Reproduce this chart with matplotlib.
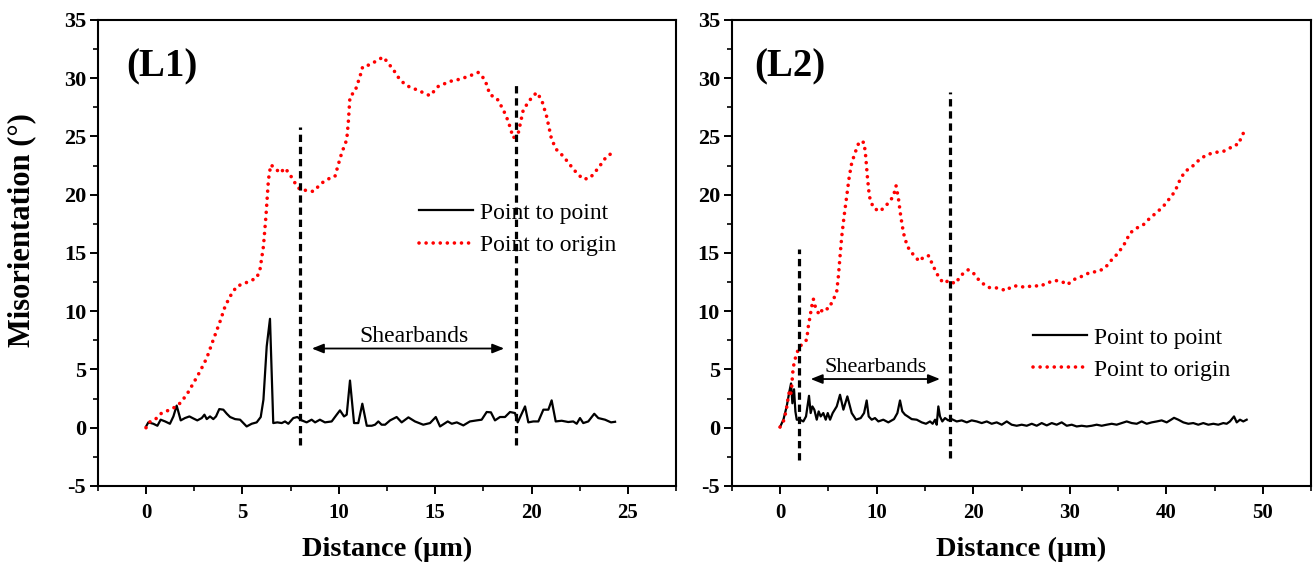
import numpy as np
import matplotlib
matplotlib.use("Agg")
import matplotlib.pyplot as plt
from matplotlib.ticker import MultipleLocator
from matplotlib.lines import Line2D

plt.rcParams["font.family"] = ["Liberation Serif", "DejaVu Serif"]
plt.rcParams["axes.unicode_minus"] = False

# ---------------- L1 profile ----------------
l1_origin_x = [0, 0.2, 0.47, 0.81, 1.16, 1.42, 1.76, 2.11, 2.46, 2.80, 3.15, 3.49, 3.84, 4.10, 4.36,
               4.70, 5.22, 5.74, 5.91, 6.09, 6.22, 6.35, 6.47, 6.69, 6.95, 7.21, 7.47, 7.73, 7.99, 8.33,
               8.68, 9.11, 9.54, 9.80, 9.97, 10.15, 10.41, 10.49, 10.58, 10.84, 11.10, 11.24, 11.62, 12.05, 12.31,
               12.83, 13.17, 13.52, 14.04, 14.73, 15.16, 15.77, 16.29, 16.80, 17.24, 17.58, 17.84, 18.19, 18.53, 18.79,
               19.05, 19.31, 19.57, 19.92, 20.26, 20.52, 20.78, 21.04, 21.30, 21.65, 21.99, 22.34, 22.68, 23.03, 23.46,
               23.89, 24.33]
l1_origin_y = [0.0, 0.5, 0.7, 1.26, 1.49, 1.69, 2.1, 2.83, 3.83, 4.83, 5.98, 7.55, 9.12, 10.41, 11.27,
               12.13, 12.47, 12.85, 13.56, 15.56, 18.14, 21.29, 22.57, 22.29, 21.86, 22.29, 21.72, 21.0, 20.43, 20.37,
               20.28, 21.0, 21.43, 21.57, 22.57, 23.58, 24.72, 26.15, 28.44, 28.87, 30.16, 31.0, 31.16, 31.59, 31.82,
               30.73, 29.87, 29.36, 29.01, 28.5, 29.3, 29.73, 29.92, 30.21, 30.5, 29.87, 28.58, 28.3, 27.3, 26.3,
               24.87, 25.3, 27.3, 28.15, 28.78, 28.15, 26.72, 24.72, 23.86, 23.29, 22.57, 21.86, 21.33, 21.43, 22.29,
               23.29, 23.72]

l1_point = [
    (0.00, 0.10), (0.12, 0.46), (0.38, 0.34), (0.59, 0.17), (0.76, 0.69), (0.99, 0.54), (1.24, 0.34),
    (1.42, 0.97), (1.59, 1.90), (1.80, 0.63), (2.02, 0.83), (2.25, 0.97), (2.45, 0.80), (2.66, 0.63),
    (2.89, 0.83), (3.03, 1.12), (3.15, 0.74), (3.32, 0.97), (3.49, 0.74), (3.63, 0.97), (3.80, 1.60),
    (4.01, 1.55), (4.19, 1.20), (4.36, 0.92), (4.62, 0.74), (4.88, 0.69), (5.05, 0.40), (5.22, 0.11),
    (5.48, 0.34), (5.74, 0.46), (5.95, 0.92), (6.09, 2.40), (6.26, 6.98), (6.43, 9.35), (6.60, 0.40),
    (6.81, 0.46), (7.04, 0.40), (7.21, 0.54), (7.38, 0.34), (7.64, 0.83), (7.85, 0.92), (8.08, 0.63),
    (8.33, 0.46), (8.59, 0.69), (8.77, 0.46), (9.02, 0.69), (9.28, 0.46), (9.63, 0.54), (9.89, 1.12),
    (10.06, 1.49), (10.27, 0.97), (10.41, 1.12), (10.58, 4.05), (10.79, 0.40), (11.01, 0.40), (11.22, 2.06),
    (11.45, 0.17), (11.71, 0.17), (11.88, 0.26), (12.05, 0.54), (12.22, 0.26), (12.40, 0.26), (12.66, 0.63),
    (13.00, 0.92), (13.26, 0.46), (13.61, 0.89), (13.95, 0.54), (14.38, 0.26), (14.73, 0.40), (15.03, 0.92),
    (15.25, 0.11), (15.65, 0.54), (15.86, 0.34), (16.12, 0.46), (16.46, 0.20), (16.80, 0.54), (17.15, 0.63),
    (17.41, 0.69), (17.67, 1.35), (17.89, 1.32), (18.10, 0.63), (18.36, 0.92), (18.62, 0.92), (18.88, 1.35),
    (19.14, 1.26), (19.28, 0.46), (19.66, 1.83), (19.83, 0.46), (20.09, 0.54), (20.35, 0.54), (20.61, 1.55),
    (20.87, 1.55), (21.04, 2.35), (21.25, 0.54), (21.56, 0.60), (21.90, 0.49), (22.16, 0.54), (22.34, 0.34),
    (22.51, 0.83), (22.68, 0.40), (22.94, 0.54), (23.25, 1.20), (23.46, 0.83), (23.81, 0.69), (24.12, 0.46),
    (24.33, 0.51),
]

# ---------------- L2 profile ----------------
l2_origin = [
    (0.00, 0.06), (0.35, 0.54), (0.62, 1.40), (0.76, 2.10), (0.86, 2.69), (0.97, 3.12), (1.10, 2.83),
    (1.21, 3.55), (1.31, 4.69), (1.45, 5.55), (1.73, 6.41), (2.07, 6.98), (2.41, 7.27), (2.76, 7.55),
    (2.93, 8.70), (3.11, 9.55), (3.28, 10.41), (3.45, 11.05), (3.69, 10.27), (4.07, 9.70), (4.48, 10.27),
    (5.00, 10.19), (5.52, 10.99), (5.87, 11.70), (6.04, 12.99), (6.21, 14.70), (6.39, 16.42), (6.63, 18.14),
    (6.90, 19.85), (7.17, 21.57), (7.42, 22.72), (7.76, 23.58), (8.21, 24.58), (8.70, 24.49), (8.87, 23.29),
    (9.04, 21.57), (9.25, 19.85), (9.66, 18.86), (10.35, 18.57), (11.05, 19.14), (11.73, 19.85), (12.01, 20.77),
    (12.25, 19.72), (12.50, 18.14), (12.78, 16.71), (13.18, 15.56), (13.80, 14.85), (14.42, 14.28), (14.91, 14.70),
    (15.39, 14.76), (15.87, 13.85), (16.39, 12.99), (16.90, 12.42), (17.52, 12.64), (18.12, 12.36), (18.81, 13.13),
    (19.49, 13.56), (20.01, 13.28), (20.70, 12.56), (21.56, 12.04), (22.60, 11.99), (23.40, 11.76), (23.98, 12.13),
    (24.67, 12.19), (25.36, 12.04), (26.23, 12.21), (26.92, 12.13), (27.61, 12.42), (28.47, 12.64), (29.16, 12.56),
    (29.74, 12.27), (30.36, 12.70), (31.23, 12.99), (32.09, 13.33), (32.95, 13.42), (33.64, 13.71), (34.34, 14.42),
    (35.02, 15.00), (35.71, 15.85), (36.23, 16.71), (36.93, 17.14), (37.61, 17.42), (38.30, 18.00), (39.00, 18.48),
    (39.68, 19.00), (40.37, 19.72), (40.89, 20.29), (41.41, 21.29), (41.93, 22.00), (42.62, 22.38), (43.40, 23.00),
    (44.17, 23.43), (45.03, 23.63), (45.89, 23.72), (46.41, 23.92), (47.10, 24.29), (47.44, 24.29), (47.79, 25.00),
    (48.24, 25.72),
]

l2_point = [
    (0.00, 0.06), (0.35, 0.69), (0.69, 1.83), (0.97, 3.12), (1.14, 3.80), (1.28, 2.10), (1.45, 3.30),
    (1.59, 1.40), (1.73, 0.69), (2.07, 0.69), (2.41, 0.54), (2.69, 0.97), (3.00, 2.74), (3.17, 1.26),
    (3.35, 1.83), (3.55, 1.55), (3.80, 0.69), (4.00, 1.40), (4.21, 0.97), (4.48, 1.26), (4.73, 0.69),
    (4.94, 1.26), (5.18, 0.69), (5.45, 1.26), (5.87, 1.83), (6.21, 2.83), (6.56, 1.55), (6.97, 2.69),
    (7.42, 1.26), (7.87, 0.69), (8.35, 0.83), (8.70, 1.26), (8.97, 2.34), (9.18, 0.97), (9.49, 0.69),
    (9.83, 0.83), (10.18, 0.54), (10.69, 0.69), (11.21, 0.46), (11.80, 0.74), (12.15, 1.26), (12.42, 2.34),
    (12.66, 1.40), (12.94, 1.12), (13.22, 0.97), (13.63, 0.74), (14.15, 0.69), (14.67, 0.46), (15.11, 0.34),
    (15.53, 0.54), (15.80, 0.34), (16.05, 0.69), (16.22, 0.26), (16.39, 1.83), (16.56, 0.97), (16.80, 0.54),
    (17.08, 0.83), (17.42, 0.63), (17.77, 0.74), (18.29, 0.54), (18.81, 0.63), (19.33, 0.46), (19.84, 0.63),
    (20.36, 0.54), (20.88, 0.40), (21.40, 0.54), (21.91, 0.34), (22.43, 0.46), (22.95, 0.26), (23.47, 0.54),
    (23.98, 0.26), (24.50, 0.17), (25.02, 0.26), (25.54, 0.17), (26.06, 0.34), (26.57, 0.17), (27.09, 0.40),
    (27.61, 0.20), (28.13, 0.40), (28.64, 0.26), (29.16, 0.46), (29.68, 0.17), (30.20, 0.26), (30.71, 0.11),
    (31.23, 0.17), (31.75, 0.11), (32.27, 0.17), (32.78, 0.26), (33.30, 0.17), (33.82, 0.26), (34.34, 0.34),
    (34.85, 0.26), (35.37, 0.40), (35.89, 0.54), (36.41, 0.40), (36.93, 0.34), (37.44, 0.54), (37.96, 0.34),
    (38.48, 0.46), (39.00, 0.54), (39.51, 0.63), (40.03, 0.46), (40.37, 0.63), (40.79, 0.85), (41.23, 0.69),
    (41.75, 0.46), (42.27, 0.34), (42.78, 0.40), (43.30, 0.26), (43.82, 0.40), (44.34, 0.26), (44.86, 0.34),
    (45.37, 0.26), (45.89, 0.40), (46.24, 0.34), (46.58, 0.54), (47.00, 0.97), (47.28, 0.46), (47.62, 0.69),
    (47.96, 0.54), (48.31, 0.69),
]

# shear-band boundaries: (x, y_bottom, y_top)
l1_bounds = [(8.0, -1.5, 25.8), (19.17, -1.5, 29.8)]
l2_bounds = [(1.97, -2.75, 15.3), (17.63, -2.6, 28.8)]
# arrow span and label position
l1_arrow = (8.6, 18.58, 6.8)
l2_arrow = (3.17, 16.56, 4.18)
l1_text = (13.9, 7.4)
l2_text = (9.9, 4.75)

legend_labels = ["Point to point", "Point to origin"]
y_ticks = [-5, 0, 5, 10, 15, 20, 25, 30, 35]

RED_DOTS = dict(color="red", lw=2.6, linestyle=(0, (0.01, 1.95)), dash_capstyle="round")
BLACK = dict(color="black", lw=1.6)
DASH = dict(color="black", lw=2.3, linestyle=(0, (2.3, 1.5)))

fig = plt.figure(figsize=(13.13, 5.69), dpi=100)
ax1 = fig.add_axes([0.0745, 0.1459, 0.4405, 0.819])
ax2 = fig.add_axes([0.5573, 0.1459, 0.4414, 0.819])


def style_axis(ax, xlim, xmajor):
    ax.set_xlim(*xlim)
    ax.set_ylim(-5, 35)
    ax.xaxis.set_major_locator(MultipleLocator(xmajor))
    ax.xaxis.set_minor_locator(MultipleLocator(xmajor / 2))
    ax.set_yticks(y_ticks)
    ax.yaxis.set_minor_locator(MultipleLocator(2.5))
    for s in ax.spines.values():
        s.set_linewidth(1.5)
    ax.tick_params(which="both", direction="out", top=False, right=False)
    ax.tick_params(which="major", length=6, width=1.4)
    ax.tick_params(which="minor", length=3.5, width=1.2)
    ax.tick_params(axis="x", which="major", pad=6, labelsize=15)
    ax.tick_params(axis="y", which="major", pad=2.5, labelsize=16)
    for lab in ax.get_xticklabels() + ax.get_yticklabels():
        lab.set_fontweight("bold")
    ax.set_xlabel("Distance (μm)", fontsize=20.5, fontweight="bold", labelpad=10)


def draw_panel(ax, pts, origin_x, origin_y, bounds, arrow, text, tag, tag_x, leg_anchor, text_size):
    px, py = np.array(pts).T
    ax.plot(px, py, **BLACK)
    ax.plot(origin_x, origin_y, **RED_DOTS)
    for x, y0, y1 in bounds:
        ax.plot([x, x], [y0, y1], **DASH)
    ax.annotate("", xy=(arrow[0], arrow[2]), xytext=(arrow[1], arrow[2]),
                arrowprops=dict(arrowstyle="<|-|>,head_length=0.7,head_width=0.28",
                                color="black", lw=1.3, shrinkA=0, shrinkB=0))
    ax.text(text[0], text[1], "Shearbands", ha="center", va="baseline", fontsize=text_size)
    ax.text(tag_x, 0.90, tag, transform=ax.transAxes, ha="left", va="center",
            fontsize=28, fontweight="bold")
    handles = [Line2D([], [], **BLACK), Line2D([], [], **RED_DOTS)]
    ax.legend(handles, legend_labels, loc="center left", bbox_to_anchor=leg_anchor,
              frameon=False, fontsize=17, handlelength=2.3, handletextpad=0.3,
              labelspacing=0.45, borderpad=0, borderaxespad=0)


style_axis(ax1, (-2.5, 27.5), 5)
style_axis(ax2, (-5, 55), 10)
fig.text(22 / 1313, 1 - 230 / 569, "Misorientation (°)", rotation=90, ha="center", va="center",
         fontsize=22, fontweight="bold")

l2o_x, l2o_y = np.array(l2_origin).T
draw_panel(ax1, l1_point, l1_origin_x, l1_origin_y, l1_bounds, l1_arrow, l1_text,
           "(L1)", 0.049, (0.555, 0.5515), 17)
draw_panel(ax2, l2_point, l2o_x, l2o_y, l2_bounds, l2_arrow, l2_text,
           "(L2)", 0.038, (0.519, 0.2835), 16)

fig.savefig("out.png", dpi=100)
